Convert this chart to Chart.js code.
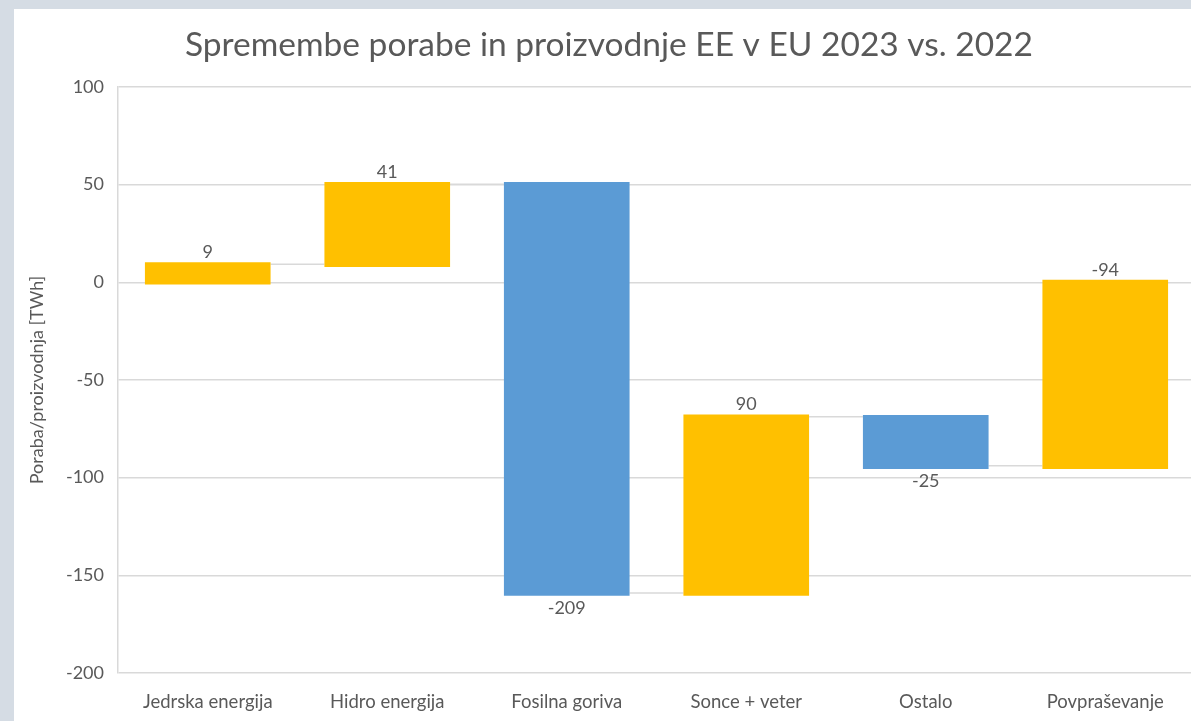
<!DOCTYPE html>
<html>
<head>
<meta charset="utf-8">
<script src="https://cdn.jsdelivr.net/npm/chart.js@4"></script>
<style>
  html, body { margin: 0; padding: 0; overflow: hidden; background: #d5dce4; }
  #panel { position: absolute; left: 14px; top: 9px; width: 1200px; height: 720px; background: #ffffff; }
  #wrap { position: absolute; left: 0; top: 0; width: 1195px; height: 721px; }
</style>
</head>
<body>
<div id="panel"></div>
<div id="wrap"><canvas id="chart"></canvas></div>
<script>
var chartTitle = 'Spremembe porabe in proizvodnje EE v EU 2023 vs. 2022';
var categories = ['Jedrska energija', 'Hidro energija', 'Fosilna goriva', 'Sonce + veter', 'Ostalo', 'Povpraševanje'];
// floating bars: [start, end] in TWh
var yellowBars = [[-1.1, 10.3], [7.8, 51.4], null, [-160.5, -67.6], null, [-95.5, 1.3]];
var blueBars = [null, null, [-160.5, 51.4], null, [-95.5, -67.9], null];
var barLabels = ['9', '41', '-209', '90', '-25', '-94'];
var connectorLevels = [9.2, 50.2, -159, -68.8, -93.9];
var yTicks = [-200, -150, -100, -50, 0, 50, 100];

var textColor = '#595959';
var gridColor = '#d9d9d9';
var fontFamily = 'Lato, "Open Sans", sans-serif';

// label above (end) or below (start) the bar
var labelSide = ['top', 'top', 'bottom', 'top', 'bottom', 'top'];

function barAt(chart, i) {
    for (var d = 0; d < chart.data.datasets.length; d++) {
        if (chart.data.datasets[d].data[i]) {
            return chart.getDatasetMeta(d).data[i];
        }
    }
    return null;
}

var waterfallExtras = {
    id: 'waterfallExtras',
    beforeDatasetsDraw: function (chart) {
        var ctx = chart.ctx;
        var y = chart.scales.y;
        ctx.save();
        ctx.strokeStyle = gridColor;
        ctx.lineWidth = 1.5;
        connectorLevels.forEach(function (level, i) {
            var a = barAt(chart, i), b = barAt(chart, i + 1);
            if (!a || !b) return;
            var py = y.getPixelForValue(level);
            ctx.beginPath();
            ctx.moveTo(a.x + a.width / 2, py);
            ctx.lineTo(b.x - b.width / 2, py);
            ctx.stroke();
        });
        ctx.restore();
    },
    afterDatasetsDraw: function (chart) {
        var ctx = chart.ctx;
        ctx.save();
        ctx.fillStyle = textColor;
        ctx.font = '18px ' + fontFamily;
        ctx.textAlign = 'center';
        ctx.textBaseline = 'middle';
        barLabels.forEach(function (txt, i) {
            var bar = barAt(chart, i);
            if (!bar) return;
            var top = Math.min(bar.y, bar.base);
            var bottom = Math.max(bar.y, bar.base);
            var py = labelSide[i] === 'top' ? top - 10 : bottom + 12;
            ctx.fillText(txt, bar.x, py);
        });
        // chart title
        ctx.font = '33.5px ' + fontFamily;
        ctx.fillText(chartTitle, 609, 45);
        ctx.restore();
    }
};

var ctx = document.getElementById('chart').getContext('2d');
var chart = new Chart(ctx, {
    type: 'bar',
    data: {
        labels: categories,
        datasets: [{
            label: 'Rast',
            data: yellowBars,
            backgroundColor: '#ffc000',
            grouped: false,
            barPercentage: 0.7,
            categoryPercentage: 1
        }, {
            label: 'Padec',
            data: blueBars,
            backgroundColor: '#5b9bd5',
            grouped: false,
            barPercentage: 0.7,
            categoryPercentage: 1
        }]
    },
    options: {
        responsive: true,
        maintainAspectRatio: false,
        animation: false,
        layout: { padding: { top: 87, right: 0, left: 0, bottom: 0 } },
        plugins: {
            legend: { display: false },
            title: { display: false },
            tooltip: { enabled: false }
        },
        scales: {
            x: {
                grid: { display: false, drawTicks: false },
                border: { display: false },
                ticks: { color: textColor, padding: 18, font: { family: fontFamily, size: 18.5 } },
                afterFit: function (scale) { scale.height = 48; }
            },
            y: {
                min: -200,
                max: 100,
                afterBuildTicks: function (scale) {
                    scale.ticks = yTicks.map(function (v) { return { value: v }; });
                },
                grid: { color: gridColor, lineWidth: 1.5, drawTicks: false },
                border: { display: true, color: gridColor, width: 1.5 },
                ticks: { color: textColor, padding: 14, font: { family: fontFamily, size: 18 } },
                title: {
                    display: true,
                    text: 'Poraba/proizvodnja [TWh]',
                    color: textColor,
                    font: { family: fontFamily, size: 18 },
                    padding: { top: 26, bottom: 0 }
                },
                afterFit: function (scale) { scale.width = 118; }
            }
        }
    },
    plugins: [waterfallExtras]
});
</script>
</body>
</html>
